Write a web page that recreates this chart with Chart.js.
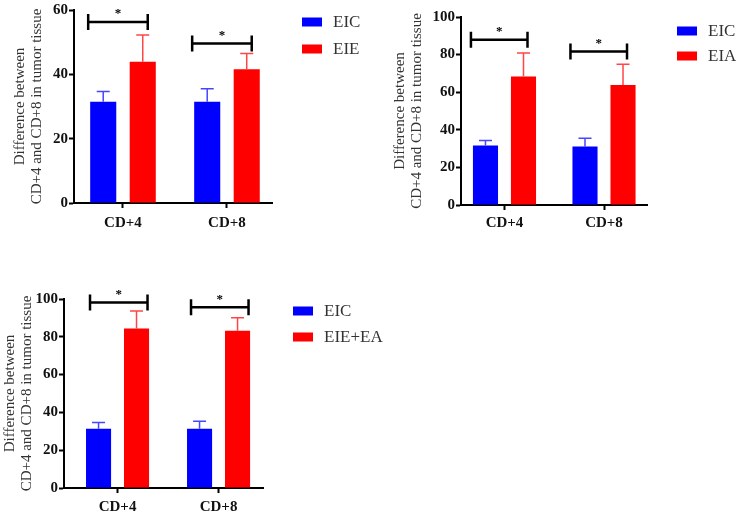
<!DOCTYPE html>
<html>
<head>
<meta charset="utf-8">
<script src="https://cdn.jsdelivr.net/npm/chart.js@4.4.1/dist/chart.umd.min.js"></script>
<style>
  body { margin: 0; background: #fff; width: 736px; height: 513px; overflow: hidden; position: relative; }
  canvas { position: absolute; }
</style>
</head>
<body>
<canvas id="chartEIE" width="380" height="235" style="left:0;top:0"></canvas>
<canvas id="chartEIA" width="356" height="235" style="left:380px;top:0"></canvas>
<canvas id="chartMix" width="420" height="233" style="left:0;top:280px"></canvas>
<script>
const categories = ["CD+4", "CD+8"];
const yTitle = ["Difference between", "CD+4 and CD+8 in tumor tissue"];
const controlName = "EIC";

// EIC vs EIE
const eicMeansA = [31.5, 31.5];
const eicSdA = [3.2, 4.0];
const eieMeans = [43.9, 41.6];
const eieSd = [8.3, 4.9];
const starsA = [56.3, 49.6];

// EIC vs EIA
const eicMeansB = [31.6, 31.1];
const eicSdB = [2.7, 4.4];
const eiaMeans = [68.4, 63.8];
const eiaSd = [12.4, 11.1];
const starsB = [87.9, 81.7];

// EIC vs EIE+EA
const eicMeansC = [31.3, 31.3];
const eicSdC = [3.4, 4.0];
const mixMeans = [84.4, 83.2];
const mixSd = [9.2, 6.9];
const starsC = [98.2, 95.6];

const serif = "'Liberation Serif', 'Times New Roman', serif";

// error bars (upper only, like Prism)
const errorBars = {
  id: "errorBars",
  afterDatasetsDraw(chart) {
    const ctx = chart.ctx, y = chart.scales.y;
    chart.data.datasets.forEach((ds, di) => {
      const meta = chart.getDatasetMeta(di);
      ctx.save();
      ctx.strokeStyle = ds.errColor;
      ctx.lineWidth = 1.5;
      meta.data.forEach((bar, i) => {
        const top = y.getPixelForValue(ds.data[i].y + ds.sd[i]);
        ctx.beginPath();
        ctx.moveTo(bar.x, bar.y);
        ctx.lineTo(bar.x, top);
        ctx.moveTo(bar.x - 6.5, top);
        ctx.lineTo(bar.x + 6.5, top);
        ctx.stroke();
      });
      ctx.restore();
    });
  }
};

// significance brackets with a star
const brackets = {
  id: "brackets",
  afterDatasetsDraw(chart, args, opts) {
    const ctx = chart.ctx, y = chart.scales.y;
    const a = chart.getDatasetMeta(0).data;
    const b = chart.getDatasetMeta(1).data;
    opts.heights.forEach((h, i) => {
      const x1 = a[i].x - a[i].width / 2 + opts.left;
      const x2 = b[i].x + opts.right;
      const py = y.getPixelForValue(h);
      ctx.save();
      ctx.strokeStyle = "#000";
      ctx.lineWidth = 2.5;
      ctx.beginPath();
      ctx.moveTo(x1, py); ctx.lineTo(x2, py);
      ctx.moveTo(x1, py - 8); ctx.lineTo(x1, py + 8);
      ctx.moveTo(x2, py - 8); ctx.lineTo(x2, py + 8);
      ctx.stroke();
      ctx.fillStyle = "#000";
      ctx.font = "bold 13px " + serif;
      ctx.textAlign = "center";
      ctx.textBaseline = "middle";
      ctx.fillText("*", (x1 + x2) / 2, py - 8);
      ctx.restore();
    });
  }
};

// legend off to the right
const sideLegend = {
  id: "sideLegend",
  afterDraw(chart, args, opts) {
    const ctx = chart.ctx;
    chart.data.datasets.forEach((ds, i) => {
      const cy = opts.y + i * opts.gap;
      ctx.save();
      ctx.fillStyle = ds.backgroundColor;
      ctx.fillRect(opts.x, cy - 4.5, 20, 9);
      ctx.fillStyle = "#333";
      ctx.font = "17px " + serif;
      ctx.textAlign = "left";
      ctx.textBaseline = "middle";
      ctx.fillText(ds.label, opts.x + 31, cy + 1);
      ctx.restore();
    });
  }
};

function makeChart(id, p) {
  const toPts = arr => arr.map((v, i) => ({ x: i, y: v }));
  return new Chart(document.getElementById(id), {
    type: "bar",
    data: {
      datasets: [
        { label: controlName, data: toPts(p.eic), sd: p.eicSd, backgroundColor: "#0000ff", errColor: "#4646ff" },
        { label: p.name, data: toPts(p.trt), sd: p.trtSd, backgroundColor: "#ff0000", errColor: "#ff4646" }
      ]
    },
    options: {
      responsive: false,
      animation: false,
      devicePixelRatio: 1,
      layout: { padding: { left: 0, top: p.top, right: p.right, bottom: 0 } },
      datasets: { bar: { categoryPercentage: p.cat, barPercentage: 0.66, borderWidth: 0 } },
      plugins: {
        legend: { display: false },
        tooltip: { enabled: false },
        brackets: { heights: p.stars, left: p.bl, right: p.br },
        sideLegend: p.legend
      },
      scales: {
        x: {
          type: "linear",
          bounds: "data",
          min: p.xMin,
          max: p.xMax,
          offset: false,
          afterBuildTicks: s => { s.ticks = categories.map((c, i) => ({ value: i })); },
          afterFit: s => { s.height = p.xH; },
          grid: { display: true, drawOnChartArea: false, offset: false, color: "#000", tickLength: 5, tickWidth: 2 },
          border: { display: true, color: "#000", width: 2 },
          ticks: {
            callback: v => categories[v],
            font: { family: serif, size: 15, weight: "bold" },
            color: "#111",
            padding: p.xPad,
            maxRotation: 0,
            autoSkip: false
          }
        },
        y: {
          min: 0,
          max: p.yMax,
          afterFit: s => { s.width = p.yW; },
          grid: { display: true, drawOnChartArea: false, color: "#000", tickLength: 5, tickWidth: 2 },
          border: { display: true, color: "#000", width: 2 },
          ticks: { stepSize: 20, font: { family: serif, size: 15, weight: "bold" }, color: "#111", padding: 1 },
          title: {
            display: true,
            text: yTitle,
            color: "#333",
            font: { family: serif, size: 15, lineHeight: 1.15 },
            padding: { top: p.tPad, bottom: 0 }
          }
        }
      }
    },
    plugins: [errorBars, brackets, sideLegend]
  });
}

makeChart("chartEIE", {
  name: "EIE", eic: eicMeansA, eicSd: eicSdA, trt: eieMeans, trtSd: eieSd, stars: starsA, yMax: 60,
  top: 10, right: 108, yW: 74, xH: 32, xPad: 6, tPad: 11, cat: 0.76, xMin: -0.471, xMax: 1.433,
  bl: -2, br: 5, legend: { x: 302, y: 22, gap: 27 }
});

makeChart("chartEIA", {
  name: "EIA", eic: eicMeansB, eicSd: eicSdB, trt: eiaMeans, trtSd: eiaSd, stars: starsB, yMax: 100,
  top: 17, right: 89, yW: 81, xH: 30, xPad: 4, tPad: 11, cat: 0.764, xMin: -0.437, xMax: 1.432,
  bl: -2, br: 4, legend: { x: 297, y: 31, gap: 25 }
});

makeChart("chartMix", {
  name: "EIE+EA", eic: eicMeansC, eicSd: eicSdC, trt: mixMeans, trtSd: mixSd, stars: starsC, yMax: 100,
  top: 19, right: 157, yW: 64, xH: 25, xPad: 5, tPad: 1, cat: 0.752, xMin: -0.53, xMax: 1.44,
  bl: 4, br: 11, legend: { x: 293, y: 31, gap: 26 }
});
</script>
</body>
</html>
